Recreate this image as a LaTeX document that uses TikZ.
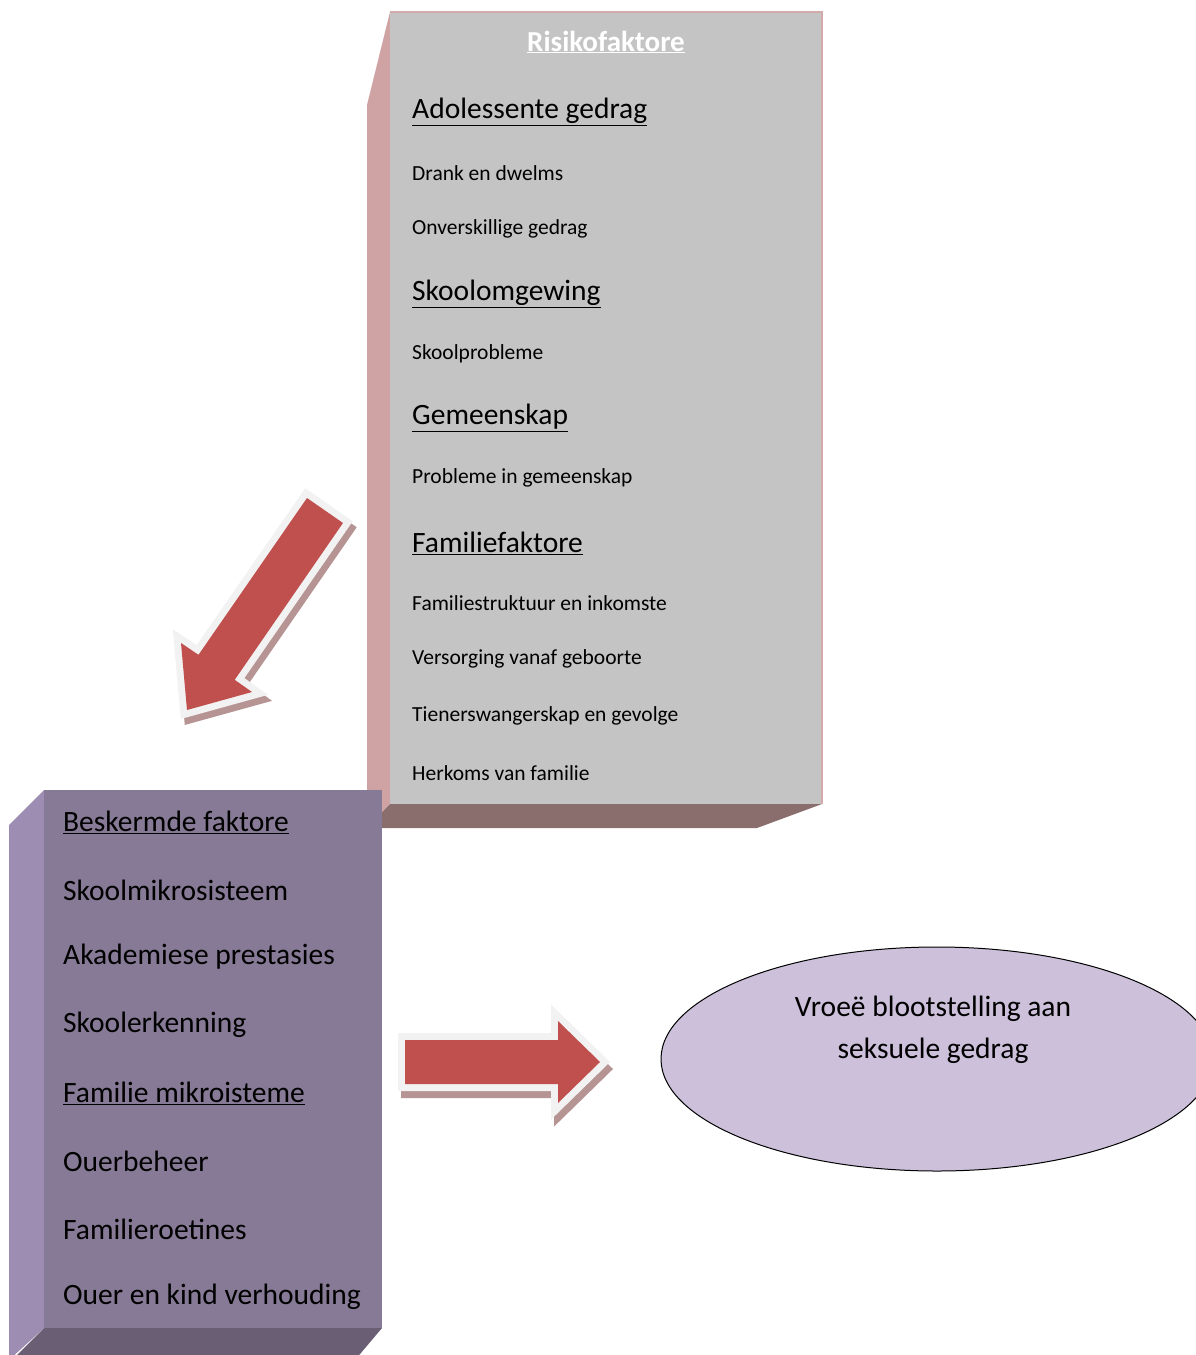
\documentclass[tikz,border=0pt]{standalone}
\usepackage{fontspec}
\setmainfont{Carlito}
\usetikzlibrary{shapes.geometric}
\definecolor{riskfront}{HTML}{C4C4C4}
\definecolor{riskside}{HTML}{CFA3A3}
\definecolor{riskbottom}{HTML}{8A6D6D}
\definecolor{riskedge}{HTML}{D2AAAA}
\definecolor{protfront}{HTML}{877A96}
\definecolor{protside}{HTML}{9E8DB3}
\definecolor{protbottom}{HTML}{6A5E74}
\definecolor{arrowred}{HTML}{C0504D}
\definecolor{arrowrim}{HTML}{F2F2F2}
\definecolor{arrowshade}{HTML}{B79494}
\definecolor{ellfill}{HTML}{CCC0DA}
\newcommand{\diagarrowpath}{(343,523) -- (234.7,679.8) -- (252,692) -- (187,710) -- (181,643) -- (198.5,654.8) -- (307,498) -- cycle}
\newcommand{\rightarrowpath}{(405,1040) -- (558,1040) -- (558,1021) -- (600,1062) -- (558,1103) -- (558,1084) -- (405,1084) -- cycle}
\begin{document}
\begin{tikzpicture}[x=1pt,y=-1pt,
  headtxt/.style={anchor=west,inner sep=0pt,font=\fontsize{29.5}{34}\selectfont},
  itemtxt/.style={anchor=west,inner sep=0pt,font=\fontsize{21.5}{26}\selectfont},
  prottxt/.style={anchor=west,inner sep=0pt,font=\fontsize{29.5}{34}\selectfont},
  shade/.style={fill=arrowshade,draw=arrowshade,line width=14pt,line join=miter},
  rim/.style={fill=arrowrim,draw=arrowrim,line width=14pt,line join=miter},
  body/.style={fill=arrowred}]
\useasboundingbox (0,0) rectangle (1195,1355);

% ---- Risk factor box (3D)
\coordinate (rTL) at (390,12);
\coordinate (rTR) at (822,12);
\coordinate (rBR) at (822,804);
\coordinate (rBL) at (390,804);
\fill[riskside] (rTL) -- (367,105) -- (367,828) -- (rBL) -- cycle;
\fill[riskbottom] (rBL) -- (rBR) -- (757,828) -- (367,828) -- cycle;
\fill[riskfront] (rTL) rectangle (rBR);
\draw[riskedge,line width=1.5pt] (rTL) -- (rTR) -- (rBR);

\node[inner sep=0pt,text=white,font=\fontsize{29}{34}\selectfont\bfseries] (risktitle) at (606,42) {\underline{Risikofaktore}};
\node[headtxt] (h1) at (412,112) {\underline{Adolessente gedrag}};
\node[itemtxt] (i1) at (412,173) {Drank en dwelms};
\node[itemtxt] (i2) at (412,229) {Onverskillige gedrag};
\node[headtxt] (h2) at (412,294) {\underline{Skoolomgewing}};
\node[itemtxt] (i3) at (412,354) {Skoolprobleme};
\node[headtxt] (h3) at (412,418) {\underline{Gemeenskap}};
\node[itemtxt] (i4) at (412,478) {Probleme in gemeenskap};
\node[headtxt] (h4) at (412,543) {\underline{Familiefaktore}};
\node[itemtxt] (i5) at (412,603) {Familiestruktuur en inkomste};
\node[itemtxt] (i6) at (412,659) {Versorging vanaf geboorte};
\node[itemtxt] (i7) at (412,716) {Tienerswangerskap en gevolge};
\node[itemtxt] (i8) at (412,773) {Herkoms van familie};

% ---- Protective factor box (3D)
\coordinate (pTL) at (44,790);
\coordinate (pTR) at (382,790);
\coordinate (pBR) at (382,1328);
\coordinate (pBL) at (44,1328);
\fill[protside] (pTL) -- (9,825) -- (9,1360) -- (pBL) -- cycle;
\fill[protbottom] (pBL) -- (pBR) -- (355,1360) -- (12,1360) -- cycle;
\fill[protfront] (pTL) rectangle (pBR);

\node[prottxt] (p0) at (63,822) {\underline{Beskermde faktore}};
\node[prottxt] (p1) at (63,890) {Skoolmikrosisteem};
\node[prottxt] (p2) at (63,957) {Akademiese prestasies};
\node[prottxt] (p3) at (63,1025) {Skoolerkenning};
\node[prottxt] (p4) at (63,1093) {\underline{Familie mikroisteme}};
\node[prottxt] (p5) at (63,1161) {Ouerbeheer};
\node[prottxt] (p6) at (63,1229) {Familieroetines};
\node[prottxt] (p7) at (63,1297) {Ouer en kind verhouding};

% ---- Block arrows
\path[shade,shift={(4,6)}] \diagarrowpath;
\path[rim] \diagarrowpath;
\path[body] \diagarrowpath;

\path[shade,shift={(3,7)}] \rightarrowpath;
\path[rim] \rightarrowpath;
\path[body] \rightarrowpath;

% ---- Outcome ellipse
\node[ellipse,draw=black,line width=1pt,fill=ellfill,minimum width=552pt,minimum height=224pt,inner sep=0pt] (outcome) at (937,1059) {};
\node[align=center,inner sep=0pt,font=\fontsize{29.5}{42}\selectfont] (outtext) at (933,1030) {Vroeë blootstelling aan\\seksuele gedrag};
\end{tikzpicture}
\end{document}
